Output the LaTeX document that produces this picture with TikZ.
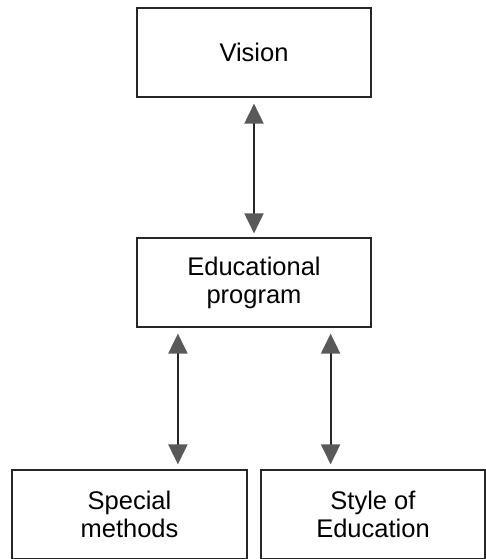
\documentclass[tikz,border=0pt]{standalone}
\usepackage{fontspec}
\setmainfont{Liberation Sans}
\usetikzlibrary{arrows.meta, positioning, calc}

\tikzset{
  box/.style={draw=black!85, line width=1.2pt, rectangle, align=center,
    minimum height=89pt, inner sep=0pt, font=\fontsize{25.5}{28}\selectfont},
  biarrow/.style={draw=black!85, line width=2pt,
    {Triangle[length=20pt,width=19pt,fill=black!65,color=black!65]}-{Triangle[length=20pt,width=19pt,fill=black!65,color=black!65]}}
}

\begin{document}
\begin{tikzpicture}[x=1pt,y=-1pt]
\useasboundingbox (0,0) rectangle (486,559);
\node [box, minimum width=234pt] (vision) at (254,52.5) {Vision};
\node [box, minimum width=234pt] (edu) at (254,282.5) {Educational\\program};
\node [box, minimum width=235pt] (special) at (129.5,514.5) {Special\\methods};
\node [box, minimum width=224pt] (style) at (373,514.5) {Style of\\Education};
\draw [biarrow, shorten <=6pt, shorten >=4pt] (vision.south) -- (edu.north);
\draw [biarrow, shorten <=6pt, shorten >=5pt] ([xshift=41.5pt]edu.south west) -- ([xshift=41.5pt]edu.south west |- special.north);
\draw [biarrow, shorten <=6pt, shorten >=5pt] ([xshift=-41pt]edu.south east) -- ([xshift=-41pt]edu.south east |- style.north);
\end{tikzpicture}
\end{document}
